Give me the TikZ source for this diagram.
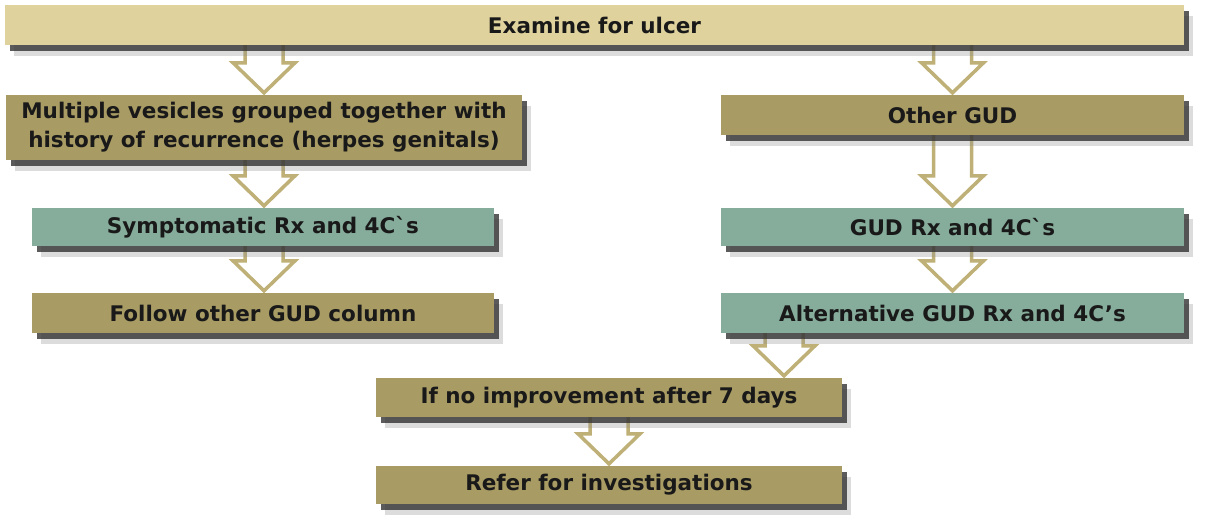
\documentclass[tikz,border=0pt]{standalone}
\usepackage{fontspec}
\setmainfont{DejaVu Sans}
\usetikzlibrary{calc}
\usetikzlibrary{shadows}
\usetikzlibrary{backgrounds}

\definecolor{cardpale}{HTML}{DFD29D}
\definecolor{cardtan}{HTML}{A89B64}
\definecolor{cardteal}{HTML}{86AC9B}
\definecolor{arrowline}{HTML}{BEB076}

\tikzset{
	card/.style={inner sep=0pt, align=center, text=black!90,
		font=\fontsize{21.5}{29}\selectfont\bfseries,
		drop shadow={shadow xshift=9pt, shadow yshift=-11pt, fill=black!45, opacity=0.3},
		drop shadow={shadow xshift=5pt, shadow yshift=-6pt, fill=black!80, opacity=0.8}},
	palecard/.style={card, fill=cardpale},
	tancard/.style={card, fill=cardtan},
	tealcard/.style={card, fill=cardteal},
	hollowarrow/.style={draw=arrowline, line width=3.5pt, fill=white, line join=miter}
}

% hollow block arrow from one card down to the next, on the column of #3
\newcommand{\gudarrow}[3]{%
	\draw[hollowarrow] let \p1=(#1.south -| #3), \p2=(#2.north -| #3) in
		(\x1-19pt,\y1+4pt) -- (\x1-19pt,\y2+32pt) -- (\x1-31pt,\y2+32pt) -- (\x1,\y2+2pt)
		-- (\x1+31pt,\y2+32pt) -- (\x1+19pt,\y2+32pt) -- (\x1+19pt,\y1+4pt) -- cycle;}

\begin{document}
\begin{tikzpicture}[x=1pt, y=-1pt]
		\path[use as bounding box] (0,0) rectangle (1210,530);

		\node[palecard, minimum width=1179, minimum height=40] (exam) at (594.5, 25) {Examine for ulcer};

		% herpes column
		\node[tancard, minimum width=516, minimum height=65] (mult) at (264, 127.5) {Multiple vesicles grouped together with\\history of recurrence (herpes genitals)};
		\node[tealcard, minimum width=462, minimum height=38] (sympt) at (263, 227) {Symptomatic Rx and 4C\textasciigrave s};
		\node[tancard, minimum width=462, minimum height=40] (follow) at (263, 313) {Follow other GUD column};

		% other GUD column
		\node[tancard, minimum width=463, minimum height=40] (other) at (952.5, 115) {Other GUD};
		\node[tealcard, minimum width=463, minimum height=38] (gudrx) at (952.5, 227) {GUD Rx and 4C\textasciigrave s};
		\node[tealcard, minimum width=463, minimum height=40] (alt) at (952.5, 313) {Alternative GUD Rx and 4C's};

		% bottom
		\node[tancard, minimum width=466, minimum height=39] (ifno) at (609, 397.5) {If no improvement after 7 days};
		\node[tancard, minimum width=466, minimum height=38] (refer) at (609, 485) {Refer for investigations};

		\coordinate (altcol) at (784, 355);

		\begin{scope}[on background layer]
			\fill[white] (0,0) rectangle (1210,530);
			\gudarrow{exam}{mult}{mult}
			\gudarrow{exam}{other}{other}
			\gudarrow{mult}{sympt}{mult}
			\gudarrow{sympt}{follow}{mult}
			\gudarrow{other}{gudrx}{other}
			\gudarrow{gudrx}{alt}{other}
			\gudarrow{alt}{ifno}{altcol}
			\gudarrow{ifno}{refer}{ifno}
		\end{scope}
\end{tikzpicture}
\end{document}
